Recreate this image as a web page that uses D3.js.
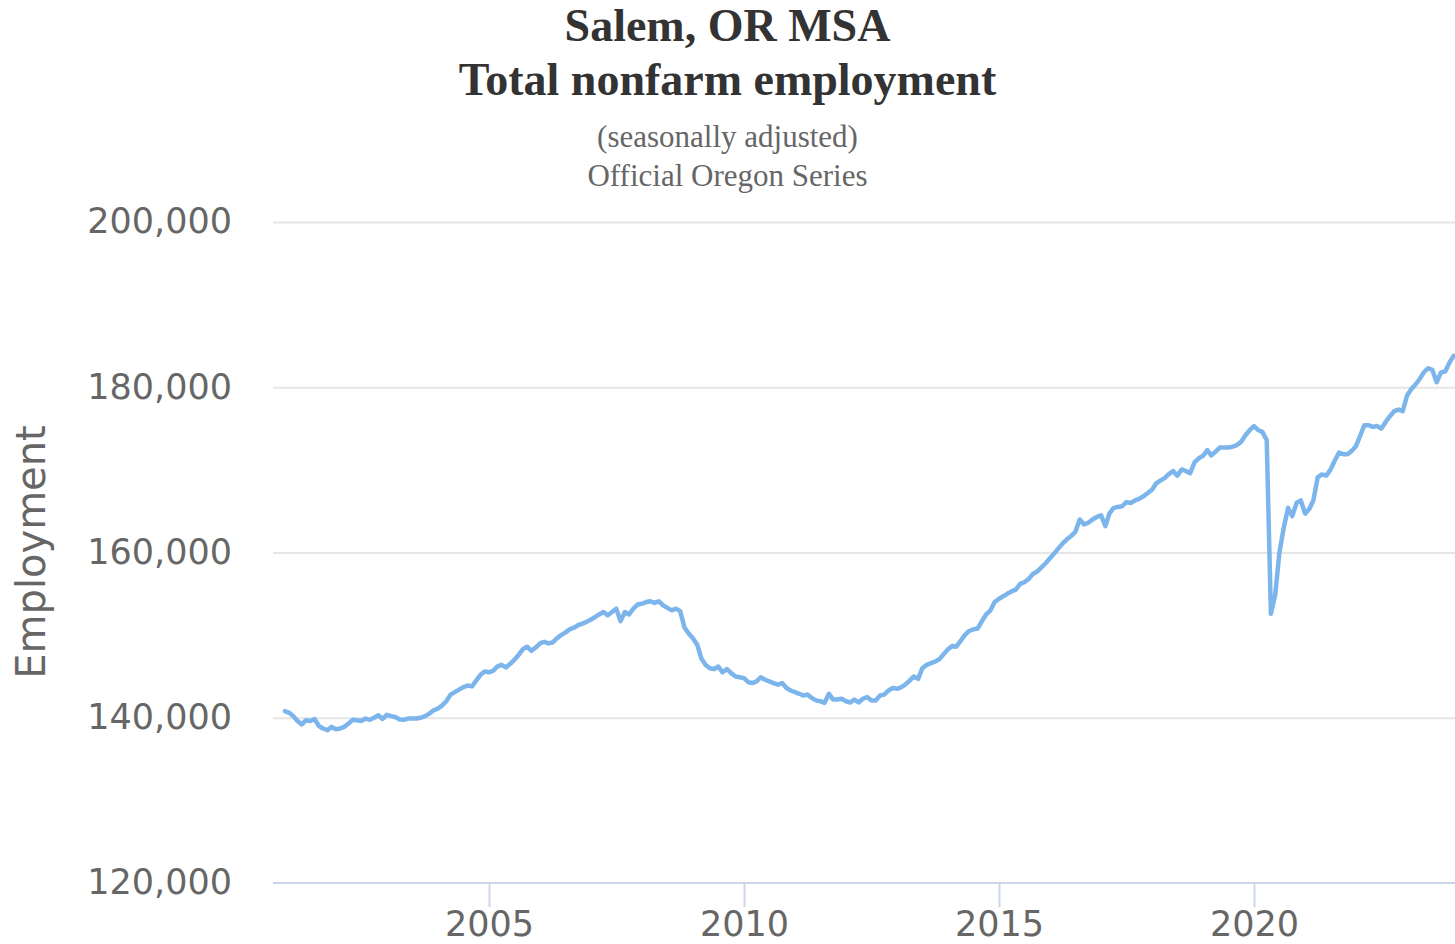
<!DOCTYPE html>
<html>
<head>
<meta charset="utf-8">
<script src="https://cdn.jsdelivr.net/npm/d3@7"></script>
<style>
  html, body { margin: 0; padding: 0; background: #fff; }
  svg { display: block; }
</style>
</head>
<body>
<div id="container"></div>
<script>
// Monthly employment, thousands (Jan..Dec)
const y2001 = [140.8, 140.6, 140.2, 139.6, 139.2, 139.7, 139.6, 139.85, 139.0, 138.7, 138.5, 138.9];
const y2002 = [138.6, 138.7, 138.9, 139.3, 139.75, 139.7, 139.6, 139.9, 139.75, 140.0, 140.3, 139.85];
const y2003 = [140.35, 140.2, 140.1, 139.8, 139.75, 139.9, 139.9, 139.9, 140.0, 140.2, 140.5, 140.9];
const y2004 = [141.1, 141.5, 142.0, 142.8, 143.1, 143.4, 143.7, 143.9, 143.8, 144.5, 145.2, 145.6];
const y2005 = [145.5, 145.7, 146.2, 146.4, 146.1, 146.5, 147.0, 147.6, 148.3, 148.6, 148.1, 148.5];
const y2006 = [149.0, 149.2, 149.0, 149.1, 149.6, 150.0, 150.3, 150.7, 150.9, 151.2, 151.4, 151.6];
const y2007 = [151.9, 152.2, 152.5, 152.8, 152.4, 152.8, 153.2, 151.7, 152.8, 152.5, 153.2, 153.7];
const y2008 = [153.8, 154.0, 154.1, 153.9, 154.1, 153.6, 153.3, 153.0, 153.2, 152.9, 150.9, 150.2];
const y2009 = [149.6, 148.8, 147.2, 146.4, 146.0, 145.9, 146.2, 145.5, 145.9, 145.4, 145.0, 144.9];
const y2010 = [144.8, 144.3, 144.2, 144.4, 144.9, 144.6, 144.4, 144.2, 144.0, 144.2, 143.6, 143.3];
const y2011 = [143.1, 142.9, 142.7, 142.8, 142.4, 142.1, 142.0, 141.8, 142.9, 142.2, 142.2, 142.3];
const y2012 = [142.0, 141.85, 142.2, 141.85, 142.3, 142.5, 142.1, 142.1, 142.7, 142.8, 143.3, 143.6];
const y2013 = [143.5, 143.7, 144.0, 144.5, 145.0, 144.7, 146.0, 146.4, 146.6, 146.8, 147.1, 147.7];
const y2014 = [148.3, 148.7, 148.6, 149.3, 150.0, 150.5, 150.7, 150.8, 151.7, 152.5, 153.0, 154.0];
const y2015 = [154.4, 154.7, 155.0, 155.3, 155.5, 156.2, 156.4, 156.8, 157.4, 157.7, 158.2, 158.7];
const y2016 = [159.3, 159.9, 160.5, 161.1, 161.6, 162.0, 162.5, 164.0, 163.4, 163.6, 164.0, 164.3];
const y2017 = [164.5, 163.2, 164.7, 165.4, 165.5, 165.6, 166.1, 166.0, 166.3, 166.5, 166.8, 167.2];
const y2018 = [167.6, 168.4, 168.7, 169.0, 169.5, 169.85, 169.3, 170.05, 169.85, 169.6, 170.9, 171.4];
const y2019 = [171.7, 172.4, 171.75, 172.2, 172.7, 172.7, 172.7, 172.8, 173.0, 173.4, 174.2, 174.8];
const y2020 = [175.3, 174.8, 174.6, 173.6, 152.6, 154.9, 160.0, 163.0, 165.4, 164.4, 166.0, 166.3];
const y2021 = [164.7, 165.3, 166.3, 169.1, 169.45, 169.3, 170.0, 171.1, 172.1, 171.9, 171.9, 172.3];
const y2022 = [172.9, 174.2, 175.4, 175.4, 175.2, 175.3, 175.0, 175.8, 176.5, 177.1, 177.3, 177.1];
const y2023 = [179.0, 179.8, 180.3, 181.0, 181.8, 182.3, 182.1, 180.6, 181.8, 181.9, 183.0, 183.8];

const years = [y2001, y2002, y2003, y2004, y2005, y2006, y2007, y2008, y2009, y2010, y2011, y2012,
               y2013, y2014, y2015, y2016, y2017, y2018, y2019, y2020, y2021, y2022, y2023];
const firstYear = 2001;

const yTicks = [120000, 140000, 160000, 180000, 200000];
const xTicks = [2005, 2010, 2015, 2020];

const titleLines = ["Salem, OR MSA", "Total nonfarm employment"];
const subtitleLines = ["(seasonally adjusted)", "Official Oregon Series"];
const yTitle = "Employment";

// flatten into {date, value}
const data = [];
years.forEach((arr, k) => {
    arr.forEach((v, m) => {
        data.push({ date: new Date(firstYear + k, m, 1), value: v * 1000 });
    });
});

const width = 1455, height = 944;
const plotLeft = 273, plotRight = 1455, plotTop = 222, plotBottom = 883;

const svg = d3.select("#container")
    .append("svg")
    .attr("width", width)
    .attr("height", height);

const x = d3.scaleTime()
    .domain([new Date(2005, 0, 1), new Date(2020, 0, 1)])
    .range([489, 1254]);

const y = d3.scaleLinear()
    .domain([120000, 200000])
    .range([plotBottom, plotTop]);

// titles
const serif = "'Liberation Serif', 'Times New Roman', Times, serif";
svg.selectAll("text.title")
    .data(titleLines)
    .enter()
    .append("text")
    .attr("class", "title")
    .attr("x", width / 2)
    .attr("y", (d, i) => 41 + i * 54)
    .attr("text-anchor", "middle")
    .attr("font-family", serif)
    .attr("font-weight", "bold")
    .attr("font-size", 46)
    .attr("fill", "#333333")
    .text(d => d);

svg.selectAll("text.subtitle")
    .data(subtitleLines)
    .enter()
    .append("text")
    .attr("class", "subtitle")
    .attr("x", width / 2)
    .attr("y", (d, i) => 147 + i * 39)
    .attr("text-anchor", "middle")
    .attr("font-family", serif)
    .attr("font-size", 31)
    .attr("fill", "#666666")
    .text(d => d);

const sans = "'DejaVu Sans', Verdana, sans-serif";

// y axis + gridlines
const yAxis = svg.append("g")
    .attr("transform", `translate(${plotLeft},0)`)
    .call(d3.axisLeft(y)
        .tickValues(yTicks)
        .tickSize(-(plotRight - plotLeft))
        .tickPadding(41)
        .tickFormat(d3.format(",")));
yAxis.select(".domain").remove();
yAxis.selectAll(".tick line")
    .attr("stroke", d => d === 120000 ? "none" : "#e6e6e6")
    .attr("stroke-width", 2);
yAxis.selectAll(".tick text")
    .attr("font-family", sans)
    .attr("font-size", 35)
    .attr("fill", "#666666")
    .attr("dy", "0.31em");

// x axis
const xAxis = svg.append("g")
    .attr("transform", `translate(0,${plotBottom})`)
    .call(d3.axisBottom(x)
        .tickValues(xTicks.map(t => new Date(t, 0, 1)))
        .tickSize(24)
        .tickPadding(4)
        .tickFormat(d3.timeFormat("%Y")));
xAxis.select(".domain")
    .attr("d", `M${plotLeft},0H${plotRight}`)
    .attr("stroke", "#ccd6eb")
    .attr("stroke-width", 2);
xAxis.selectAll(".tick line")
    .attr("stroke", "#ccd6eb")
    .attr("stroke-width", 2);
xAxis.selectAll(".tick text")
    .attr("font-family", sans)
    .attr("font-size", 35)
    .attr("fill", "#666666");

// y axis title
svg.append("text")
    .attr("transform", "translate(45,552) rotate(-90)")
    .attr("text-anchor", "middle")
    .attr("font-family", sans)
    .attr("font-size", 40)
    .attr("fill", "#666666")
    .text(yTitle);

// the series
const line = d3.line()
    .x(d => x(d.date))
    .y(d => y(d.value));

svg.append("path")
    .datum(data)
    .attr("fill", "none")
    .attr("stroke", "#7cb5ec")
    .attr("stroke-width", 4.5)
    .attr("stroke-linejoin", "round")
    .attr("stroke-linecap", "round")
    .attr("d", line);
</script>
</body>
</html>
